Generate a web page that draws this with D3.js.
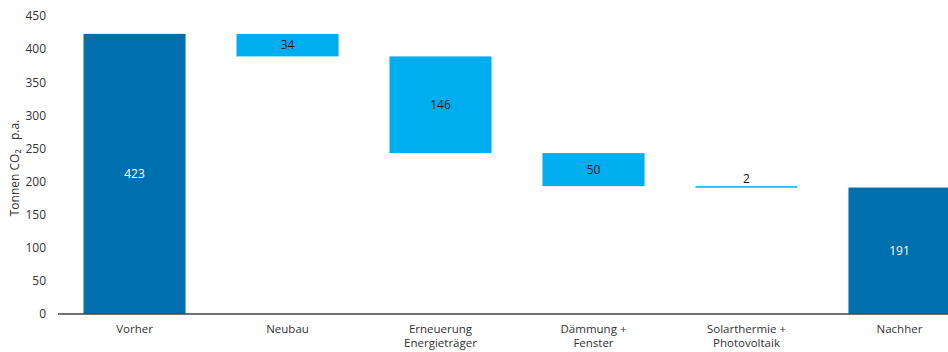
<!DOCTYPE html>
<html>
<head>
<meta charset="utf-8">
<script src="https://d3js.org/d3.v7.min.js"></script>
<style>
  body { margin: 0; background: #fff; }
  svg text { font-family: "Open Sans", "Noto Sans", sans-serif; }
</style>
</head>
<body>
<div id="chart"></div>
<script>
// data
var categories = ["Vorher", "Neubau", "Erneuerung\nEnergieträger", "Dämmung +\nFenster", "Solarthermie +\nPhotovoltaik", "Nachher"];
var values = [423, -34, -146, -50, -2, 191];
var isTotal = [true, false, false, false, false, true];
var yTicks = [0, 50, 100, 150, 200, 250, 300, 350, 400, 450];

var width = 948, height = 352;
var svg = d3.select("#chart").append("svg")
    .attr("width", width)
    .attr("height", height);

var x = d3.scaleBand()
    .domain(categories)
    .range([58, 976])
    .paddingInner(0.333)
    .paddingOuter(0.1667);

var y = d3.scaleLinear()
    .domain([0, 450])
    .range([314, 16]);

// build waterfall steps
var running = 0;
var steps = categories.map(function (c, i) {
    var v = values[i], lo, hi;
    if (isTotal[i]) { lo = 0; hi = v; running = v; }
    else { hi = running; running = running + v; lo = running; }
    return { cat: c, value: v, lo: lo, hi: hi, total: isTotal[i] };
});

// y axis labels
var yAxis = svg.append("g")
    .attr("transform", "translate(52,0)")
    .call(d3.axisLeft(y).tickValues(yTicks).tickSize(0).tickPadding(6));
yAxis.select(".domain").remove();
yAxis.selectAll("text")
    .attr("font-size", 12)
    .attr("fill", "#333");

svg.append("text")
    .attr("transform", "translate(19,168) rotate(-90)")
    .attr("text-anchor", "middle")
    .attr("font-size", 12)
    .attr("fill", "#333")
    .text("Tonnen CO\u2082\u00a0\u00a0\u00a0p.a.");

// bars
svg.selectAll("rect.bar")
    .data(steps)
    .enter()
    .append("rect")
    .attr("class", "bar")
    .attr("x", function (d) { return x(d.cat); })
    .attr("width", x.bandwidth())
    .attr("y", function (d) { return y(d.hi); })
    .attr("height", function (d) { return Math.max(1.5, y(d.lo) - y(d.hi)); })
    .attr("fill", function (d) { return d.total ? "#006fae" : "#00aeef"; });

// bar labels
svg.selectAll("text.val")
    .data(steps)
    .enter()
    .append("text")
    .attr("class", "val")
    .attr("x", function (d) { return x(d.cat) + x.bandwidth() / 2; })
    .attr("y", function (d) {
        var h = y(d.lo) - y(d.hi);
        if (h < 10) return y(d.hi) - 3;
        return (y(d.lo) + y(d.hi)) / 2 + 4;
    })
    .attr("text-anchor", "middle")
    .attr("font-size", 12)
    .attr("fill", function (d) { return d.total ? "#fff" : "#1a1a1a"; })
    .text(function (d) { return Math.abs(d.value); });

// x axis line
svg.append("line")
    .attr("x1", 58).attr("x2", width)
    .attr("y1", y(0)).attr("y2", y(0))
    .attr("stroke", "#444")
    .attr("stroke-width", 1.5);

// category labels, one text per line
categories.forEach(function (c) {
    c.split("\n").forEach(function (line, j) {
        svg.append("text")
            .attr("class", "cat")
            .attr("x", x(c) + x.bandwidth() / 2)
            .attr("y", 333 + j * 13.5)
            .attr("text-anchor", "middle")
            .attr("font-size", 11.5)
            .attr("fill", "#333")
            .text(line);
    });
});
</script>
</body>
</html>
